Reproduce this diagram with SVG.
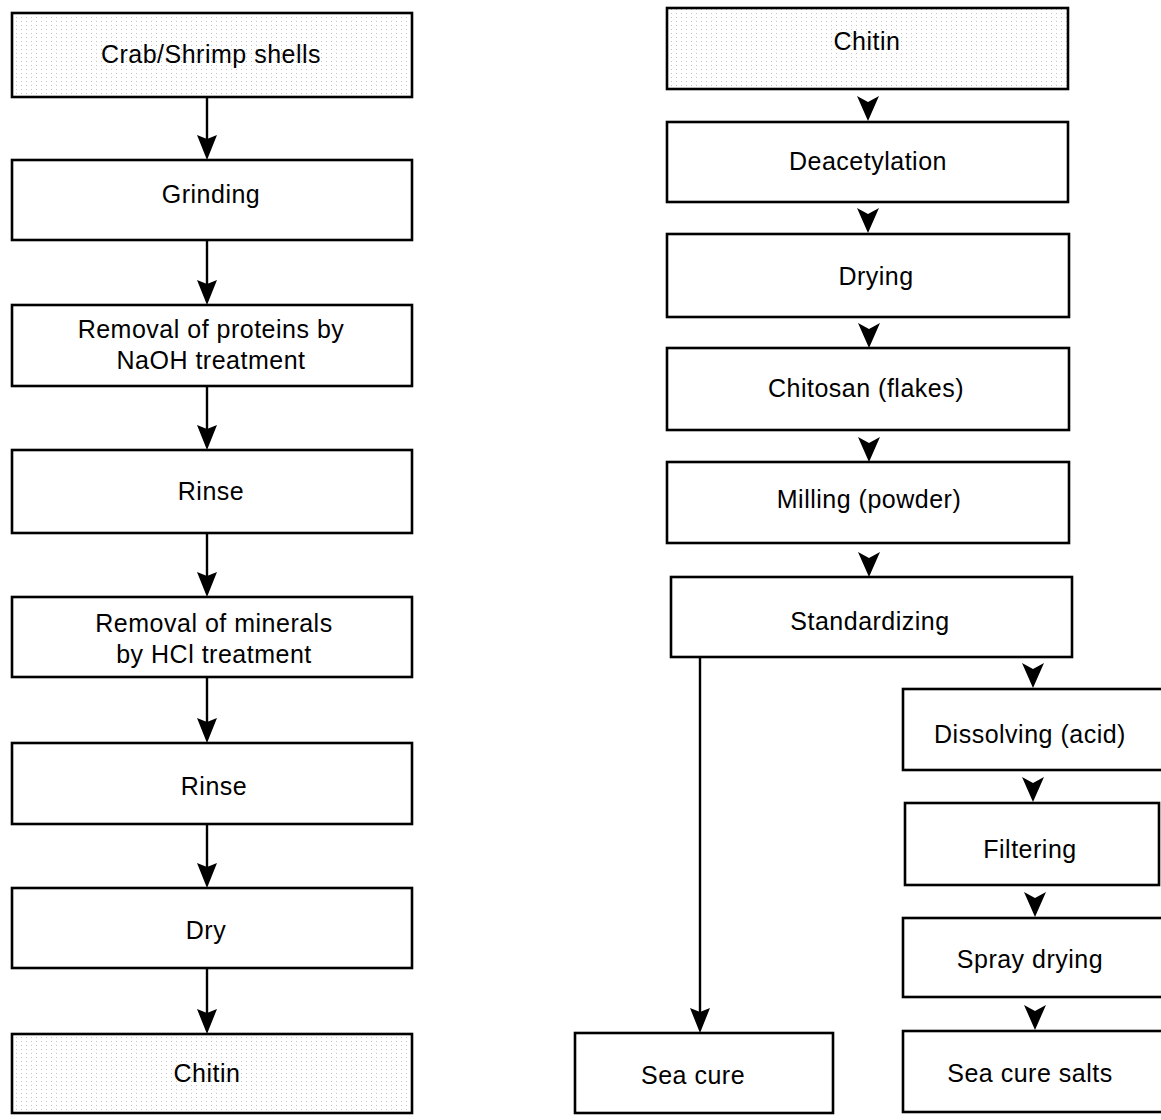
<svg xmlns="http://www.w3.org/2000/svg" xmlns:xlink="http://www.w3.org/1999/xlink" width="1161" height="1120" viewBox="0 0 1161 1120">
<style>
.box{fill:#fff;stroke:#000;stroke-width:2.6}
.dot{fill:url(#stipple);stroke:#000;stroke-width:2.6}
.t{font-family:"Liberation Sans",Arial,sans-serif;font-size:25px;letter-spacing:0.5px;fill:#000;text-anchor:middle}
.ln{stroke:#000;stroke-width:2.4;fill:none}
</style>
<defs>
<pattern id="stipple" width="5" height="4" patternUnits="userSpaceOnUse">
<rect width="5" height="4" fill="#fff"/>
<rect x="1" y="1" width="1" height="1" fill="#c4c4c4"/>
</pattern>
<path id="ahL" d="M0,0 L-10,-25 L0,-21 L10,-25 Z" fill="#000"/>
<path id="ahR" d="M0,0 L-11,-25 L0,-19 L11,-25 Z" fill="#000"/>
</defs>
<g id="connectors">
<line class="ln" x1="207" y1="97" x2="207" y2="140"/><use xlink:href="#ahL" x="207" y="160"/>
<line class="ln" x1="207" y1="240" x2="207" y2="285"/><use xlink:href="#ahL" x="207" y="305"/>
<line class="ln" x1="207" y1="386" x2="207" y2="430"/><use xlink:href="#ahL" x="207" y="450"/>
<line class="ln" x1="207" y1="533" x2="207" y2="577"/><use xlink:href="#ahL" x="207" y="597"/>
<line class="ln" x1="207" y1="677" x2="207" y2="723"/><use xlink:href="#ahL" x="207" y="743"/>
<line class="ln" x1="207" y1="824" x2="207" y2="868"/><use xlink:href="#ahL" x="207" y="888"/>
<line class="ln" x1="207" y1="968" x2="207" y2="1014"/><use xlink:href="#ahL" x="207" y="1034"/>
<use xlink:href="#ahR" x="868" y="121"/>
<use xlink:href="#ahR" x="868" y="233"/>
<use xlink:href="#ahR" x="869" y="348"/>
<use xlink:href="#ahR" x="869" y="462"/>
<use xlink:href="#ahR" x="869" y="577"/>
<use xlink:href="#ahR" x="1033" y="688"/>
<use xlink:href="#ahR" x="1033" y="802"/>
<use xlink:href="#ahR" x="1035" y="917"/>
<use xlink:href="#ahR" x="1035" y="1030"/>
<line class="ln" x1="700" y1="657" x2="700" y2="1013"/><use xlink:href="#ahL" x="700" y="1033"/>
</g>
<g id="n-crab"><rect class="dot" x="12" y="13" width="400" height="84"/><text class="t" x="211" y="63">Crab/Shrimp shells</text></g>
<g id="n-grinding"><rect class="box" x="12" y="160" width="400" height="80"/><text class="t" x="211" y="203">Grinding</text></g>
<g id="n-proteins"><rect class="box" x="12" y="305" width="400" height="81"/><text class="t" x="211" y="338">Removal of proteins by</text><text class="t" x="211" y="369">NaOH treatment</text></g>
<g id="n-rinse1"><rect class="box" x="12" y="450" width="400" height="83"/><text class="t" x="211" y="500">Rinse</text></g>
<g id="n-minerals"><rect class="box" x="12" y="597" width="400" height="80"/><text class="t" x="214" y="632">Removal of minerals</text><text class="t" x="214" y="663">by HCl treatment</text></g>
<g id="n-rinse2"><rect class="box" x="12" y="743" width="400" height="81"/><text class="t" x="214" y="795">Rinse</text></g>
<g id="n-dry"><rect class="box" x="12" y="888" width="400" height="80"/><text class="t" x="206" y="939">Dry</text></g>
<g id="n-chitin1"><rect class="dot" x="12" y="1034" width="400" height="79"/><text class="t" x="207" y="1082">Chitin</text></g>
<g id="n-chitin2"><rect class="dot" x="667" y="8" width="401" height="81"/><text class="t" x="867" y="50">Chitin</text></g>
<g id="n-deacetylation"><rect class="box" x="667" y="122" width="401" height="80"/><text class="t" x="868" y="170">Deacetylation</text></g>
<g id="n-drying"><rect class="box" x="667" y="234" width="402" height="83"/><text class="t" x="876" y="285">Drying</text></g>
<g id="n-chitosan"><rect class="box" x="667" y="348" width="402" height="82"/><text class="t" x="866" y="397">Chitosan (flakes)</text></g>
<g id="n-milling"><rect class="box" x="667" y="462" width="402" height="81"/><text class="t" x="869" y="508">Milling (powder)</text></g>
<g id="n-standardizing"><rect class="box" x="671" y="577" width="401" height="80"/><text class="t" x="870" y="630">Standardizing</text></g>
<g id="n-seacure"><rect class="box" x="575" y="1033" width="258" height="80"/><text class="t" x="693" y="1084">Sea cure</text></g>
<g id="n-dissolving"><rect class="box" x="903" y="689" width="270" height="81"/><text class="t" x="1030" y="743">Dissolving (acid)</text></g>
<g id="n-filtering"><rect class="box" x="905" y="803" width="254" height="82"/><text class="t" x="1030" y="858">Filtering</text></g>
<g id="n-spray"><rect class="box" x="903" y="918" width="270" height="79"/><text class="t" x="1030" y="968">Spray drying</text></g>
<g id="n-salts"><rect class="box" x="903" y="1031" width="270" height="81"/><text class="t" x="1030" y="1082">Sea cure salts</text></g>
</svg>
